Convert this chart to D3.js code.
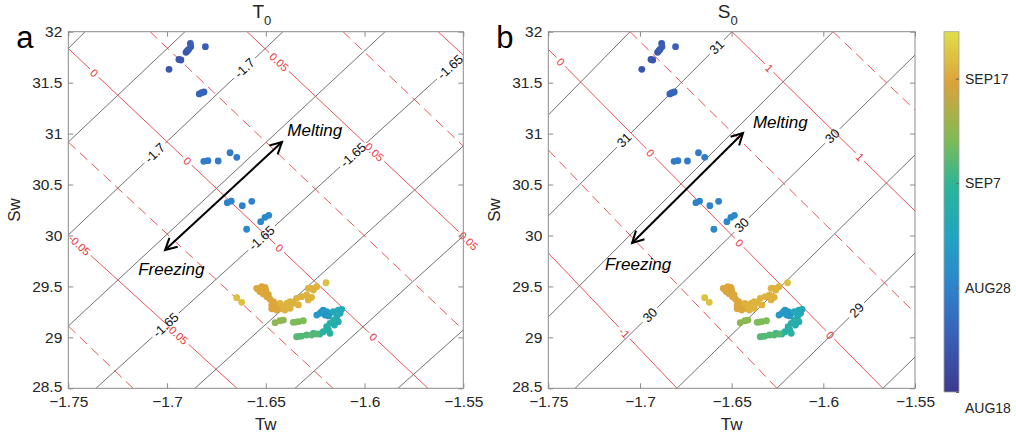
<!DOCTYPE html>
<html><head><meta charset="utf-8">
<script src="https://cdn.jsdelivr.net/npm/d3@7"></script>
<style>
html,body{margin:0;padding:0;background:#fff;}
svg{display:block;font-family:"Liberation Sans",Arial,Helvetica,sans-serif;}
</style></head><body>
<svg id="chart" width="1016" height="439"></svg>
<script>
// ================= DATA =================
const twDomain = [-1.75, -1.55];
const swDomain = [28.5, 32];
const twTicks = [-1.75, -1.7, -1.65, -1.6, -1.55];
const swTicks = [28.5, 29, 29.5, 30, 30.5, 31, 31.5, 32];

// observations (Tw, Sw, date)
const obsTw = [
 -1.6990,-1.6940,-1.6930,-1.6904,-1.6897,-1.6890,-1.6882,-1.6880,-1.6806,
 -1.6837,-1.6825,-1.6813,
 -1.6814,-1.6793,-1.6741,-1.6681,-1.6647,
 -1.6695,-1.6675,-1.6619,-1.6571,-1.6526,-1.6504,-1.6485,-1.6597,
 -1.6226,-1.6209,-1.6192,-1.6175,-1.6200,-1.6217,-1.6242,-1.6183,
 -1.6158,-1.6133,-1.6116,-1.6124,-1.6141,
 -1.6158,-1.6175,-1.6192,-1.6209,-1.6183,-1.6152,-1.6133,-1.6259,-1.6226,-1.6175,
 -1.6344,-1.6318,-1.6293,-1.6268,-1.6242,-1.6330,
 -1.6361,-1.6335,-1.6310,-1.6348,
 -1.6453,-1.6428,-1.6411,
 -1.6546,-1.6521,-1.6504,-1.6529,-1.6513,-1.6495,-1.6479,-1.6462,-1.6470,-1.6453,-1.6437,-1.6445,-1.6470,
 -1.6428,-1.6411,-1.6394,-1.6377,-1.6361,-1.6344,-1.6318,-1.6293,-1.6268,-1.6242,-1.6259,
 -1.6403,-1.6377,-1.6335,-1.6285,-1.6268,-1.6285,
 -1.6538,-1.6500,-1.6487,-1.6455,-1.6420,
 -1.6647,-1.6622,-1.6195
];
const obsSw = [
 31.631,31.727,31.722,31.798,31.814,31.827,31.886,31.853,31.853,
 31.389,31.401,31.408,
 30.728,30.734,30.731,30.812,30.767,
 30.322,30.338,30.292,30.335,30.135,30.178,30.198,30.061,
 29.236,29.268,29.252,29.236,29.219,29.252,29.219,29.210,
 29.252,29.268,29.275,29.236,29.203,
 29.170,29.138,29.105,29.056,29.072,29.121,29.154,29.040,29.033,29.040,
 29.006,29.013,29.023,29.023,29.033,29.010,
 29.148,29.154,29.163,29.150,
 29.144,29.163,29.170,
 29.481,29.497,29.491,29.448,29.426,29.399,29.374,29.350,29.318,29.301,29.318,29.268,29.280,
 29.334,29.301,29.334,29.350,29.334,29.383,29.399,29.416,29.481,29.497,29.465,
 29.268,29.285,29.318,29.367,29.393,29.481,
 29.470,29.460,29.420,29.330,29.285,
 29.389,29.344,29.536
];
const obsDate = [
 "2015-08-22","2015-08-22","2015-08-22","2015-08-22","2015-08-22","2015-08-23","2015-08-23","2015-08-23","2015-08-23",
 "2015-08-24","2015-08-24","2015-08-24",
 "2015-08-27","2015-08-27","2015-08-27","2015-08-27","2015-08-27",
 "2015-08-28","2015-08-28","2015-08-28","2015-08-28","2015-08-29","2015-08-29","2015-08-29","2015-08-29",
 "2015-08-31","2015-08-31","2015-08-31","2015-08-31","2015-08-31","2015-08-31","2015-08-31","2015-08-31",
 "2015-09-03","2015-09-03","2015-09-03","2015-09-03","2015-09-03",
 "2015-09-05","2015-09-05","2015-09-05","2015-09-05","2015-09-05","2015-09-04","2015-09-04","2015-09-06","2015-09-06","2015-09-06",
 "2015-09-09","2015-09-09","2015-09-09","2015-09-09","2015-09-09","2015-09-09",
 "2015-09-11","2015-09-11","2015-09-11","2015-09-11",
 "2015-09-12","2015-09-12","2015-09-12",
 "2015-09-17","2015-09-17","2015-09-17","2015-09-17","2015-09-17","2015-09-17","2015-09-17","2015-09-17","2015-09-17","2015-09-17","2015-09-17","2015-09-17","2015-09-17",
 "2015-09-18","2015-09-18","2015-09-18","2015-09-18","2015-09-18","2015-09-18","2015-09-18","2015-09-18","2015-09-18","2015-09-18","2015-09-18",
 "2015-09-18","2015-09-18","2015-09-18","2015-09-18","2015-09-18","2015-09-18",
 "2015-09-17","2015-09-17","2015-09-17","2015-09-17","2015-09-17",
 "2015-09-19","2015-09-19","2015-09-19"
];

// colorbar
const cbDomain = ["2015-08-18T00:00", "2015-09-21T12:00"];
const cbTickDates = ["2015-08-18", "2015-08-28", "2015-09-07", "2015-09-17"];
const cbTickLabels = ["AUG18", "AUG28", "SEP7", "SEP17"];
const cmapStops = [0, 0.14, 0.28, 0.42, 0.57, 0.70, 0.86, 1];
const cmapColors = ["#3b3a8e", "#3a5cb5", "#2f80cc", "#22a2c4", "#2ab59a", "#7fbb55", "#dca23a", "#dfe04a"];

// Panel a: T0 contours (black) [Tw1, Sw1, Tw2, Sw2]
const t0Levels = [-1.75, -1.725, -1.7, -1.675, -1.65, -1.625, -1.6, -1.575];
const t0Lines = [
 [-1.75, 31.835, -1.7415, 32],
 [-1.75, 30.917, -1.6909, 32],
 [-1.75, 30.005, -1.6413, 32],
 [-1.75, 29.111, -1.5896, 32],
 [-1.7360, 28.5, -1.55, 31.771],
 [-1.6859, 28.5, -1.55, 30.878],
 [-1.6352, 28.5, -1.55, 29.995],
 [-1.5831, 28.5, -1.55, 29.072]
];
const t0LabelLevels = [-1.7, -1.7, -1.65, -1.65, -1.65, -1.65];
const t0LabelSw = [31.643, 30.809, 31.654, 30.790, 29.975, 29.121];

// Panel a: red contours
const aRedLevels = [-0.075, -0.05, -0.025, 0, 0.025, 0.05, 0.075, 0.1];
const aRedLines = [
 [-1.75, 29.111, -1.7172, 28.5],
 [-1.75, 30.005, -1.6646, 28.5],
 [-1.75, 30.917, -1.6160, 28.5],
 [-1.75, 31.835, -1.5679, 28.5],
 [-1.7086, 32, -1.55, 29.072],
 [-1.6595, 32, -1.55, 29.995],
 [-1.6109, 32, -1.55, 30.878],
 [-1.5628, 32, -1.55, 31.771]
];
const aRedLabelLevels = [0, 0, 0, 0, 0.05, 0.05, 0.05, -0.05, -0.05];
const aRedLabelSw = [31.595, 30.731, 29.877, 29.004, 31.703, 30.819, 29.946, 29.906, 29.033];

// Panel b: S0 contours (black)
const s0Levels = [31.5, 31, 30.5, 30, 29.5, 29, 28.5];
const s0Lines = [
 [-1.75, 31.182, -1.7054, 32],
 [-1.75, 30.191, -1.6498, 32],
 [-1.75, 29.200, -1.5947, 32],
 [-1.7354, 28.5, -1.55, 31.771],
 [-1.6798, 28.5, -1.55, 30.790],
 [-1.6253, 28.5, -1.55, 29.828],
 [-1.5675, 28.5, -1.55, 28.807]
];
const s0LabelLevels = [31, 31, 30, 30, 30, 29];
const s0LabelSw = [31.850, 30.937, 30.976, 30.103, 29.220, 29.267];

// Panel b: red contours
const bRedLevels = [-1, -0.5, 0, 0.5, 1, 1.5];
const bRedLines = [
 [-1.75, 29.828, -1.6798, 28.5],
 [-1.75, 30.839, -1.6253, 28.5],
 [-1.75, 31.827, -1.5675, 28.5],
 [-1.7054, 32, -1.55, 29.239],
 [-1.6498, 32, -1.55, 30.240],
 [-1.5947, 32, -1.55, 31.232]
];
const bRedLabelLevels = [0, 0, 0, 0, 1, 1, -1];
const bRedLabelSw = [31.703, 30.810, 29.927, 29.023, 31.643, 30.770, 29.043];

// process arrows [[Tw,Sw] freezing end, [Tw,Sw] melting end]
const arrowA = [[-1.7010, 29.857], [-1.6418, 30.917]];
const arrowB = [[-1.7043, 29.926], [-1.6438, 31.006]];
const arrowTextA = {melt: [-1.6391, 30.975], freeze: [-1.7146, 29.612]};
const arrowTextB = {melt: [-1.6384, 31.054], freeze: [-1.7191, 29.661]};

// ================= DRAW =================
const W = 1016, H = 439;
const svg = d3.select("#chart");
const plotTop = 31.7, plotBottom = 388.3;
const parseISO = d3.isoParse;

const cbTime = d3.scaleTime().domain(cbDomain.map(parseISO)).range([0, 1]);
const cmap = d3.scaleLinear().domain(cmapStops).range(cmapColors).interpolate(d3.interpolateRgb).clamp(true);
const colorOf = d => cmap(cbTime(parseISO(d)));

const obs = obsTw.map((t, i) => ({tw: t, sw: obsSw[i], date: obsDate[i]}))
  .sort((a, b) => parseISO(a.date) - parseISO(b.date));

const panels = [
  {id: "a", left: 68.3, right: 463.3, title: "T", letter: "a",
   black: {levels: t0Levels, lines: t0Lines, labLev: t0LabelLevels, labSw: t0LabelSw},
   red: {levels: aRedLevels, lines: aRedLines, labLev: aRedLabelLevels, labSw: aRedLabelSw, major: 0.05},
   arrow: arrowA, atext: arrowTextA},
  {id: "b", left: 548.3, right: 915, title: "S", letter: "b",
   black: {levels: s0Levels, lines: s0Lines, labLev: s0LabelLevels, labSw: s0LabelSw},
   red: {levels: bRedLevels, lines: bRedLines, labLev: bRedLabelLevels, labSw: bRedLabelSw, major: 1},
   arrow: arrowB, atext: arrowTextB}
];

const defs = svg.append("defs");
const axisColor = "#8a8a8a";
const textColor = "#262626";

panels.forEach(p => {
  const x = d3.scaleLinear().domain(twDomain).range([p.left, p.right]);
  const y = d3.scaleLinear().domain(swDomain).range([plotBottom, plotTop]);

  defs.append("clipPath").attr("id", "clip-" + p.id)
    .append("rect").attr("x", p.left).attr("y", plotTop)
    .attr("width", p.right - p.left).attr("height", plotBottom - plotTop);

  const g = svg.append("g");

  function drawFamily(fam, color, fontSize, isRed, key) {
    const maskId = "mask-" + p.id + "-" + key;
    const mask = defs.append("mask").attr("id", maskId)
      .attr("maskUnits", "userSpaceOnUse").attr("x", 0).attr("y", 0).attr("width", W).attr("height", H);
    mask.append("rect").attr("x", 0).attr("y", 0).attr("width", W).attr("height", H).attr("fill", "#fff");

    const lg = g.append("g").attr("clip-path", `url(#clip-${p.id})`)
      .append("g").attr("mask", `url(#${maskId})`);
    fam.lines.forEach((ln, i) => {
      const lev = fam.levels[i];
      let dashed = false;
      if (isRed) {
        const r = lev / fam.major;
        dashed = Math.abs(r - Math.round(r)) > 1e-6;
      }
      lg.append("line")
        .attr("x1", x(ln[0])).attr("y1", y(ln[1]))
        .attr("x2", x(ln[2])).attr("y2", y(ln[3]))
        .attr("stroke", color).attr("stroke-width", isRed ? 0.85 : 0.8)
        .attr("stroke-dasharray", dashed ? "10,6" : null);
    });

    fam.labLev.forEach((lev, i) => {
      const idx = fam.levels.findIndex(l => Math.abs(l - lev) < 1e-9);
      const ln = fam.lines[idx];
      const sw = fam.labSw[i];
      const tw = ln[0] + (sw - ln[1]) * (ln[2] - ln[0]) / (ln[3] - ln[1]);
      const px = x(tw), py = y(sw);
      let ang = Math.atan2(y(ln[3]) - y(ln[1]), x(ln[2]) - x(ln[0])) * 180 / Math.PI;
      if (ang > 90) ang -= 180;
      if (ang < -90) ang += 180;
      const t = g.append("text")
        .attr("transform", `translate(${px},${py}) rotate(${ang})`)
        .attr("text-anchor", "middle").attr("dominant-baseline", "central")
        .attr("font-size", fontSize).attr("fill", isRed ? color : "#111")
        .text(String(lev));
      const w = t.node().getComputedTextLength();
      mask.append("rect")
        .attr("transform", `translate(${px},${py}) rotate(${ang})`)
        .attr("x", -w / 2 - 3).attr("y", -fontSize * 0.45)
        .attr("width", w + 6).attr("height", fontSize * 0.9)
        .attr("fill", "#000");
    });
  }

  drawFamily(p.black, "#4d4d4d", 13, false, "k");
  drawFamily(p.red, "#e8333a", 11, true, "r");

  // scatter
  g.append("g").selectAll("circle").data(obs).join("circle")
    .attr("cx", d => x(d.tw)).attr("cy", d => y(d.sw)).attr("r", 3.4)
    .attr("fill", d => colorOf(d.date));

  // arrow
  const a0 = [x(p.arrow[0][0]), y(p.arrow[0][1])];
  const a1 = [x(p.arrow[1][0]), y(p.arrow[1][1])];
  g.append("line").attr("x1", a0[0]).attr("y1", a0[1]).attr("x2", a1[0]).attr("y2", a1[1])
    .attr("stroke", "#000").attr("stroke-width", 2);
  function head(tip, from) {
    const ang = Math.atan2(tip[1] - from[1], tip[0] - from[0]);
    const L = 13, spread = Math.PI / 6.5;
    const pA = [tip[0] - L * Math.cos(ang - spread), tip[1] - L * Math.sin(ang - spread)];
    const pB = [tip[0] - L * Math.cos(ang + spread), tip[1] - L * Math.sin(ang + spread)];
    g.append("path").attr("d", `M${pA[0]},${pA[1]}L${tip[0]},${tip[1]}L${pB[0]},${pB[1]}`)
      .attr("fill", "none").attr("stroke", "#000").attr("stroke-width", 2);
  }
  head(a1, a0);
  head(a0, a1);
  g.append("text").attr("x", x(p.atext.melt[0])).attr("y", y(p.atext.melt[1]))
    .attr("font-size", 17).attr("font-style", "italic").attr("fill", "#000").text("Melting");
  g.append("text").attr("x", x(p.atext.freeze[0])).attr("y", y(p.atext.freeze[1]))
    .attr("font-size", 17).attr("font-style", "italic").attr("fill", "#000").text("Freezing");

  // axes
  const fmt = v => (v < 0 ? "\u2212" : "") + d3.format("")(Math.abs(v));
  const ax = g.append("g").attr("transform", `translate(0,${plotBottom})`)
    .call(d3.axisBottom(x).tickValues(twTicks).tickSize(-5).tickPadding(8).tickFormat(fmt));
  const axT = g.append("g").attr("transform", `translate(0,${plotTop})`)
    .call(d3.axisTop(x).tickValues(twTicks).tickSize(-5).tickFormat(""));
  const ay = g.append("g").attr("transform", `translate(${p.left},0)`)
    .call(d3.axisLeft(y).tickValues(swTicks).tickSize(-5).tickPadding(6).tickFormat(d3.format("")));
  const ayR = g.append("g").attr("transform", `translate(${p.right},0)`)
    .call(d3.axisRight(y).tickValues(swTicks).tickSize(-5).tickFormat(""));
  [ax, axT, ay, ayR].forEach(a => {
    a.select(".domain").remove();
    a.selectAll(".tick line").attr("stroke", axisColor);
    a.selectAll("text").attr("font-size", 15.5).attr("fill", textColor)
      .attr("font-family", '"Liberation Sans",Arial,sans-serif');
  });
  ay.selectAll(".tick").filter(d => d === swTicks[0]).select("text").attr("dy", "0.2em");
  g.append("rect").attr("x", p.left).attr("y", plotTop)
    .attr("width", p.right - p.left).attr("height", plotBottom - plotTop)
    .attr("fill", "none").attr("stroke", axisColor).attr("stroke-width", 1);

  // labels
  const cx = (p.left + p.right) / 2;
  g.append("text").attr("x", cx).attr("y", 430).attr("text-anchor", "middle")
    .attr("font-size", 17).attr("fill", textColor).text("Tw");
  g.append("text").attr("transform", `translate(${p.left - 48},${(plotTop + plotBottom) / 2}) rotate(-90)`)
    .attr("text-anchor", "middle").attr("font-size", 17).attr("fill", textColor).text("Sw");
  const tt = g.append("text").attr("x", cx - 4).attr("y", 18).attr("text-anchor", "middle")
    .attr("font-size", 19).attr("fill", textColor);
  tt.append("tspan").text(p.title);
  tt.append("tspan").attr("font-size", 13).attr("dy", 7).text("0");
  g.append("text").attr("x", p.left - 52).attr("y", 48).attr("font-size", 31)
    .attr("fill", "#000").text(p.letter);
});

// colorbar
const cbX = 944, cbW = 15, cbTop = 31.7, cbBottom = 392;
const cbY = d3.scaleTime().domain(cbDomain.map(parseISO)).range([cbBottom, cbTop]);
const grad = defs.append("linearGradient").attr("id", "cbgrad")
  .attr("x1", 0).attr("y1", 1).attr("x2", 0).attr("y2", 0);
d3.range(0, 1.0001, 0.02).forEach(t => {
  grad.append("stop").attr("offset", t).attr("stop-color", cmap(t));
});
svg.append("rect").attr("x", cbX).attr("y", cbTop).attr("width", cbW).attr("height", cbBottom - cbTop)
  .attr("fill", "url(#cbgrad)").attr("stroke", "#a0a0a0").attr("stroke-width", 0.8);
const cbAxis = svg.append("g").attr("transform", `translate(${cbX + cbW},0)`)
  .call(d3.axisRight(cbY).tickValues(cbTickDates.map(parseISO)).tickSize(-3).tickPadding(6)
    .tickFormat((d, i) => cbTickLabels[i]));
cbAxis.select(".domain").remove();
cbAxis.selectAll(".tick line").attr("stroke", "#666");
cbAxis.selectAll("text").attr("font-size", 14).attr("fill", textColor)
  .attr("font-family", '"Liberation Sans",Arial,sans-serif');
cbAxis.selectAll(".tick").filter((d, i) => i === 0).select("text").attr("dy", "1.45em");
</script>
</body></html>
